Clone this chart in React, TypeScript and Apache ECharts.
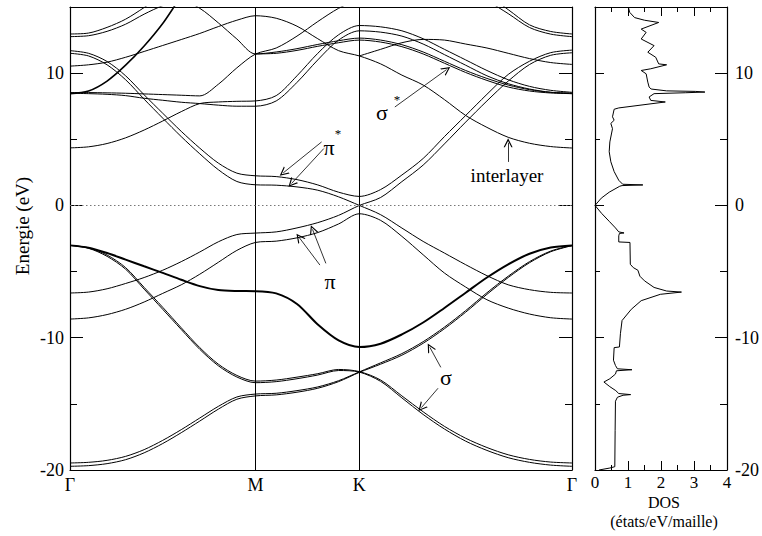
import React, { useEffect, useRef } from 'react';
import * as echarts from 'echarts';

// k-path sample points: Γ(0) → M(1) → K(1.5607) → Γ(2.7075)
const K_PATH = [0, 0.1, 0.2, 0.3, 0.4, 0.5, 0.6, 0.7, 0.8, 0.9, 1.0,
  1.1121, 1.2243, 1.3364, 1.4486, 1.5607,
  1.6754, 1.7901, 1.9047, 2.0194, 2.1341, 2.2488, 2.3635, 2.4782, 2.5928, 2.7075];
const K_TICKS = [0, 1, 1.5607, 2.7075];
const K_LABELS = ['Γ', 'M', 'K', 'Γ'];
const E_MAJOR = [-20, -10, 0, 10];
const E_MINOR = [-15, -5, 5];

const N = null;
// band energies (eV) at K_PATH
const bandU1 = [12.96, 13.03, 13.46, 14.08, 14.96, 15.9, 16.8, 17.5, 18.0, 18.3, 18.4, 18.3, 18.0, 17.6, 17.2, 17.0, 17.0, 16.9, 16.8, 16.6, 16.4, 15.9, 14.8, 13.65, 13.15, 12.96];
const bandU2 = [12.76, 12.83, 13.16, 13.7, 14.46, 15.1, 15.5, 14.9, 13.8, 12.58, 11.45, 11.6, 11.85, 12.17, 12.45, 12.65, 12.5, 12.15, 11.6, 10.9, 10.2, 9.6, 9.1, 8.75, 8.55, 8.5];
const bandFlat1 = [8.53, 8.53, 8.51, 8.48, 8.43, 8.38, 8.33, 8.28, 9.16, 10.4, 11.44, 11.9, 12.8, 13.9, 14.9, 15.6, 16.3, 16.8, 17.0, 17.0, 16.5, 15.5, 14.5, 13.45, 12.95, 12.76];
const bandUp = [8.45, 8.65, 9.4, 10.6, 12.05, 13.75, 15.8, 17.5, 19.0, N, N, N, N, N, N, N, N, N, N, N, N, N, N, N, N, N];
const bandRise = [4.35, 4.43, 4.68, 5.11, 5.7, 6.38, 7.09, 7.7, 7.82, 7.87, 7.9, 8.3, 9.8, 11.5, 12.9, 13.6, 13.5, 13.2, 12.6, 11.8, 11.0, 10.2, 9.5, 9.0, 8.7, 8.55];
const bandFlat2 = [8.48, 8.45, 8.4, 8.3, 8.1, 7.95, 7.8, 7.7, 7.58, 7.5, 7.5, 7.9, 9.3, 11.0, 12.5, 13.2, 13.1, 12.8, 12.2, 11.4, 10.6, 9.8, 9.2, 8.8, 8.55, 8.45];
const bandInter = [10.53, 10.63, 10.83, 11.2, 11.64, 12.09, 12.54, 13.0, 13.52, 14.0, 14.34, 14.15, 13.55, 12.6, 11.7, 11.3, 10.7, 9.85, 9.1, 8.0, 6.8, 5.9, 5.15, 4.7, 4.45, 4.34];
const bandSigStarB = [N, N, N, N, N, N, N, N, N, N, 11.45, 11.5, 11.72, 12.03, 12.3, 12.5, 12.35, 12.0, 11.45, 10.75, 10.05, 9.45, 8.95, 8.65, 8.5, 8.45];
const bandR10 = [N, N, N, N, N, N, N, N, N, N, N, N, N, N, N, 11.3, 11.8, 12.3, 12.55, 12.5, 12.2, 11.9, 11.5, 11.1, 10.8, 10.66];
const bandPiStarA = [11.7, 11.5, 10.88, 9.8, 8.36, 6.97, 5.6, 4.33, 3.2, 2.44, 2.24, 2.18, 1.95, 1.55, 1.0, 0.68, 1.2, 2.3, 3.55, 5.2, 6.8, 8.4, 9.9, 10.9, 11.55, 11.74];
const bandPiStarB = [11.5, 11.3, 10.63, 9.5, 8.03, 6.6, 5.2, 3.9, 2.7, 1.81, 1.56, 1.53, 1.4, 1.15, 0.65, 0, -0.7, -1.71, -2.72, -3.6, -4.48, -5.31, -6.0, -6.37, -6.57, -6.62];
const bandPiA = [-6.62, -6.55, -6.3, -5.9, -5.45, -4.9, -4.25, -3.52, -2.75, -2.2, -2.09, -2.0, -1.7, -1.3, -0.75, 0, 0.6, 1.8, 3.05, 4.65, 6.3, 7.9, 9.4, 10.65, 11.35, 11.54];
const bandPiB = [-8.59, -8.5, -8.25, -7.85, -7.3, -6.65, -6.0, -5.2, -4.3, -3.4, -2.8, -2.7, -2.45, -2.05, -1.4, -0.63, -1.13, -2.34, -3.73, -5.11, -6.17, -7.13, -7.76, -8.21, -8.49, -8.59];
const bandSigA = [-3.02, -3.2, -3.6, -4.1, -4.6, -5.1, -5.62, -6.1, -6.4, -6.47, -6.48, -6.65, -7.45, -9.0, -10.2, -10.7, -10.45, -9.75, -8.85, -7.75, -6.6, -5.45, -4.45, -3.65, -3.18, -3.02];
const bandSig1 = [-19.47, -19.42, -19.27, -18.97, -18.46, -17.76, -16.95, -16.07, -15.19, -14.48, -14.26, -14.2, -14.0, -13.72, -13.25, -12.58, -11.9, -11.2, -10.3, -9.2, -7.95, -6.6, -5.35, -4.25, -3.45, -3.02];
const bandSig2 = [-19.72, -19.67, -19.52, -19.22, -18.7, -18.0, -17.18, -16.3, -15.4, -14.65, -14.4, -14.32, -14.12, -13.82, -13.32, -12.62, -12.0, -11.32, -10.42, -9.32, -8.07, -6.72, -5.45, -4.33, -3.5, -3.04];
const bandSig3 = [-3.02, -3.2, -3.75, -4.7, -6.2, -7.7, -9.25, -10.75, -12.0, -12.85, -13.28, -13.2, -12.98, -12.72, -12.4, -12.56, -13.2, -14.4, -15.6, -16.7, -17.6, -18.3, -18.85, -19.2, -19.4, -19.47];
const bandSig4 = [-3.02, -3.24, -3.85, -4.82, -6.33, -7.85, -9.38, -10.88, -12.12, -12.97, -13.4, -13.32, -13.1, -12.82, -12.48, -12.6, -13.3, -14.55, -15.8, -16.9, -17.82, -18.52, -19.07, -19.42, -19.63, -19.72];

// density of states: energy (eV) and DOS (états/eV/maille)
const DOS_E = [-20.0, -19.85, -19.75, -17, -14.8, -14.5, -14.35, -14.3, -14.22, -14.0, -13.7, -13.35, -13.1, -12.75, -12.5, -12.42, -12.35, -12.1, -11.7, -10.75, -10.7, -9.7, -8.7, -7.85, -7.2, -6.72, -6.55, -6.47, -6.2, -5.7, -5.35, -4.9, -4.7, -4.45, -2.8, -2.76, -2.3, -2.12, -2.08, -2.0, -1.7, -1.2, -0.6, 0,
  0.55, 1.0, 1.45, 1.5, 1.55, 1.6, 1.9, 2.56, 3.3, 4.06, 4.8, 5.8, 6.2, 6.44, 6.7, 7.27, 7.37, 7.82, 7.94, 8.2, 8.45, 8.52, 8.57, 8.62, 8.66, 8.8, 8.95, 9.32, 9.95, 10.2, 10.33, 10.63, 10.7, 11.2, 11.58, 12.08, 12.58, 13.08, 13.33, 13.83, 14.0, 14.2, 14.6, 15.0];
const DOS_V = [0.12, 0.45, 0.6, 0.61, 0.62, 0.68, 0.85, 1.08, 0.72, 0.63, 0.45, 0.27, 0.45, 0.62, 0.65, 1.12, 0.68, 0.62, 0.56, 0.58, 0.74, 0.77, 0.82, 1.1, 1.4, 1.98, 2.62, 2.17, 1.79, 1.5, 1.36, 1.3, 1.16, 1.07, 1.06, 0.72, 0.72, 0.74, 0.88, 0.72, 0.62, 0.43, 0.2, 0,
  0.19, 0.43, 0.75, 0.82, 1.45, 0.84, 0.72, 0.58, 0.48, 0.43, 0.45, 0.53, 0.48, 0.58, 0.53, 0.58, 0.72, 2.13, 1.69, 1.64, 1.79, 2.75, 3.33, 3.04, 2.17, 1.7, 1.64, 1.6, 1.55, 1.4, 1.69, 2.17, 1.93, 1.84, 1.6, 1.79, 1.4, 1.55, 1.4, 1.93, 1.5, 1.2, 1.05, 1.01];

// annotation arrows in (k, E)
const ARROWS = [
  [[1.357, 4.8], [1.15, 2.46]],
  [[1.369, 4.3], [1.195, 1.66]],
  [[1.752, 7.44], [2.031, 10.27]],
  [[2.363, 3.29], [2.363, 4.73]],
  [[1.348, -4.51], [1.236, -2.42]],
  [[1.38, -4.38], [1.308, -1.81]],
  [[2.0, -12.24], [1.941, -10.73]],
  [[1.985, -13.82], [1.895, -15.29]],
];

const BANDS = [
  { d: bandU1, w: 1 }, { d: bandU2, w: 1 }, { d: bandFlat1, w: 1 }, { d: bandUp, w: 1.6 },
  { d: bandRise, w: 1 }, { d: bandFlat2, w: 1 }, { d: bandInter, w: 1 }, { d: bandSigStarB, w: 1 },
  { d: bandR10, w: 1 }, { d: bandPiStarA, w: 1 }, { d: bandPiStarB, w: 1 }, { d: bandPiA, w: 1 },
  { d: bandPiB, w: 1 }, { d: bandSigA, w: 2 }, { d: bandSig1, w: 1 }, { d: bandSig2, w: 1 },
  { d: bandSig3, w: 1 }, { d: bandSig4, w: 1 },
];

const FONT = 'Liberation Serif';
const CHEVRON = 'path://M5,0 L10,10 L8.6,10 L5,2.8 L1.4,10 L0,10 Z';

export default function App() {
  const ref = useRef<HTMLDivElement>(null);
  useEffect(() => {
    if (!ref.current) return;
    const chart = echarts.init(ref.current, undefined, { renderer: 'svg' });
    const lineCol = '#000';
    const yAx = (grid: number, pos: 'left' | 'right', ticks: number[], len: number, showLine: boolean, labels: boolean) => ({
      type: 'value', gridIndex: grid, position: pos, min: -20, max: 15,
      axisLine: { show: showLine, onZero: false, lineStyle: { color: lineCol, width: 1.2 } },
      axisTick: { show: true, inside: true, length: len, customValues: ticks, lineStyle: { color: lineCol, width: 1 } },
      axisLabel: labels ? { show: true, customValues: E_MAJOR, fontFamily: FONT, fontSize: 18, color: '#000', margin: pos === 'left' ? 6 : 8 } : { show: false },
      splitLine: { show: false },
    });
    const series: any[] = BANDS.map((b, i) => ({
      type: 'line', xAxisIndex: 0, yAxisIndex: 0,
      data: K_PATH.map((k, j) => [k, b.d[j]]),
      showSymbol: false, smooth: 0.3, connectNulls: false, silent: true,
      lineStyle: { color: '#000', width: b.w }, z: 3,
      ...(i === 0 ? {
        markLine: {
          silent: true, symbol: ['none', 'none'], label: { show: false }, animation: false,
          lineStyle: { color: '#000', width: 1, type: 'solid' },
          data: [
            { xAxis: K_TICKS[1] }, { xAxis: K_TICKS[2] },
            { yAxis: 0, lineStyle: { color: '#777', width: 1, type: [1.5, 2.5] } },
          ],
        },
      } : {}),
      ...(i === 1 ? {
        markLine: {
          silent: true, symbol: ['none', CHEVRON], symbolSize: 9, label: { show: false }, animation: false,
          lineStyle: { color: '#000', width: 0.8, type: 'solid' },
          itemStyle: { color: '#000' },
          data: ARROWS.map((a) => [{ coord: a[0] }, { coord: a[1] }]),
        },
      } : {}),
    }));
    series.push({
      type: 'line', xAxisIndex: 2, yAxisIndex: 4,
      data: DOS_E.map((e, i) => [DOS_V[i], e]),
      showSymbol: false, smooth: false, silent: true,
      lineStyle: { color: '#000', width: 1 },
    });
    const txt = (text: string, x: number, y: number, size: number, extra: any = {}) => ({
      type: 'text', x, y, silent: true, ...extra,
      style: { text, fill: '#000', fontSize: size, fontFamily: FONT, textAlign: 'center', textVerticalAlign: 'middle', align: 'center', verticalAlign: 'middle' },
    });
    chart.setOption({
      animation: false,
      backgroundColor: '#fff',
      textStyle: { fontFamily: FONT },
      grid: [
        { left: 70, top: 7, width: 502, height: 463 },
        { left: 595, top: 7, width: 138, height: 463 },
      ],
      xAxis: [
        {
          type: 'value', gridIndex: 0, min: 0, max: K_TICKS[3], position: 'bottom',
          axisLine: { show: true, onZero: false, lineStyle: { color: lineCol, width: 1.2 } },
          axisTick: { show: false },
          axisLabel: {
            customValues: K_TICKS, fontFamily: FONT, fontSize: 18, color: '#000', margin: 6,
            formatter: (v: number) => { const i = K_TICKS.findIndex((t) => Math.abs(t - v) < 1e-3); return i >= 0 ? K_LABELS[i] : ''; },
          },
          splitLine: { show: false },
        },
        {
          type: 'value', gridIndex: 0, min: 0, max: K_TICKS[3], position: 'top',
          axisLine: { show: true, onZero: false, lineStyle: { color: lineCol, width: 1.2 } },
          axisTick: { show: false }, axisLabel: { show: false }, splitLine: { show: false },
        },
        {
          type: 'value', gridIndex: 1, min: 0, max: 4, interval: 1, position: 'bottom',
          axisLine: { show: true, onZero: false, lineStyle: { color: lineCol, width: 1.2 } },
          axisTick: { show: true, inside: true, length: 9, lineStyle: { color: lineCol } },
          minorTick: { show: true, splitNumber: 2, length: 5, lineStyle: { color: lineCol } },
          axisLabel: { fontFamily: FONT, fontSize: 17, color: '#000', margin: 4 },
          splitLine: { show: false }, minorSplitLine: { show: false },
        },
        {
          type: 'value', gridIndex: 1, min: 0, max: 4, interval: 1, position: 'top',
          axisLine: { show: true, onZero: false, lineStyle: { color: lineCol, width: 1.2 } },
          axisTick: { show: true, inside: true, length: 9, lineStyle: { color: lineCol } },
          minorTick: { show: true, splitNumber: 2, length: 5, lineStyle: { color: lineCol } },
          axisLabel: { show: false }, splitLine: { show: false }, minorSplitLine: { show: false },
        },
      ],
      yAxis: [
        yAx(0, 'left', E_MAJOR, 13, true, true),
        yAx(0, 'left', E_MINOR, 7, false, false),
        yAx(0, 'right', E_MAJOR, 13, true, false),
        yAx(0, 'right', E_MINOR, 7, false, false),
        yAx(1, 'left', E_MAJOR, 9, true, false),
        yAx(1, 'left', E_MINOR, 5, false, false),
        yAx(1, 'right', E_MAJOR, 12, true, true),
        yAx(1, 'right', E_MINOR, 7, false, false),
      ],
      series,
      graphic: [
        txt('Energie (eV)', 22, 226, 19, { rotation: Math.PI / 2 }),
        txt('DOS', 664, 502, 16),
        txt('(états/eV/maille)', 664, 521, 16),
        txt('π', 329, 147, 22),
        txt('*', 338, 133, 13),
        txt('σ', 382, 112, 22),
        txt('*', 397, 99, 13),
        txt('interlayer', 507, 175, 19),
        txt('π', 330, 281, 22),
        txt('σ', 446, 377, 22),
      ],
    });
    return () => chart.dispose();
  }, []);
  return <div ref={ref} style={{ position: 'fixed', left: 0, top: 0, width: 762, height: 536, background: '#fff' }} />;
}
